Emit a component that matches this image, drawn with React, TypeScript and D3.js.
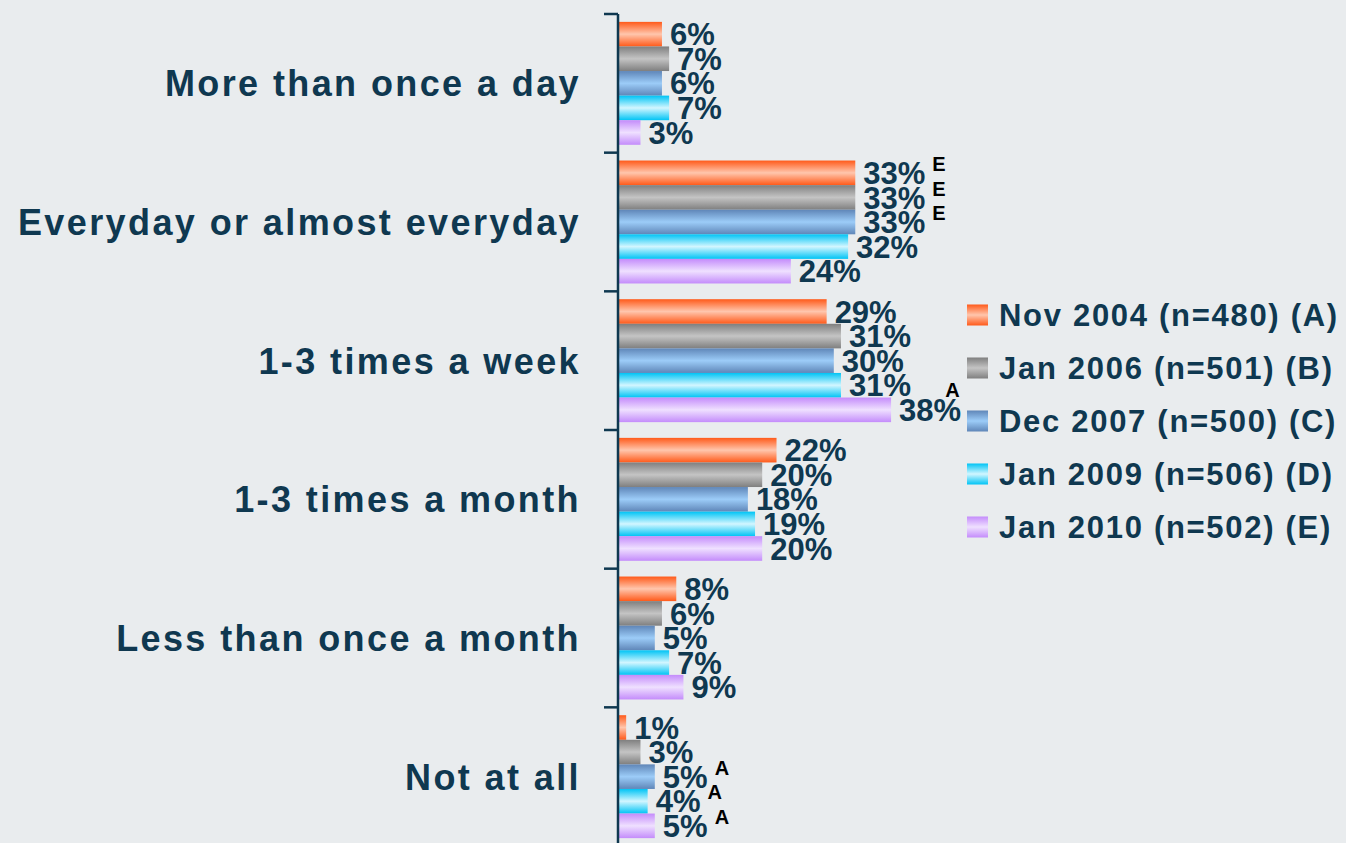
import React from 'react';
import * as d3 from 'd3';

const categories = [
    'More than once a day',
    'Everyday or almost everyday',
    '1-3 times a week',
    '1-3 times a month',
    'Less than once a month',
    'Not at all'
];

const seriesNames = [
    'Nov 2004 (n=480) (A)',
    'Jan 2006 (n=501) (B)',
    'Dec 2007 (n=500) (C)',
    'Jan 2009 (n=506) (D)',
    'Jan 2010 (n=502) (E)'
];

// one array per wave, values per category
const nov2004 = [6, 33, 29, 22, 8, 1];
const jan2006 = [7, 33, 31, 20, 6, 3];
const dec2007 = [6, 33, 30, 18, 5, 5];
const jan2009 = [7, 32, 31, 19, 7, 4];
const jan2010 = [3, 24, 38, 20, 9, 5];

// significance letters: [category index, series index, letter, sits above the label]
const sigLetters: [number, number, string, boolean][] = [
    [1, 0, 'E', false],
    [1, 1, 'E', false],
    [1, 2, 'E', false],
    [2, 4, 'A', true],
    [5, 2, 'A', false],
    [5, 3, 'A', false],
    [5, 4, 'A', false]
];

const seriesValues = [nov2004, jan2006, dec2007, jan2009, jan2010];

// [edge, middle] colours of the bar gradients
const gradients = [
    ['#ff5a1a', '#ffc6ad'],
    ['#7f7f7f', '#c4c4c4'],
    ['#5f86b8', '#9cccf8'],
    ['#00c4f5', '#d2f6ff'],
    ['#c48cfb', '#efe0ff']
];

const W = 1346;
const H = 843;
const navy = '#0f3850';
const font = '"Liberation Sans", Arial, sans-serif';

function App() {
    const axisX = 618;
    const y = d3.scaleBand<number>()
        .domain(d3.range(categories.length))
        .range([14, 846])
        .paddingInner(0)
        .paddingOuter(0);

    const inner = d3.scaleBand<number>()
        .domain(d3.range(seriesNames.length))
        .range([0, y.bandwidth()])
        .paddingInner(0)
        .paddingOuter(0.32);

    const x = d3.scaleLinear().domain([0, 100]).range([axisX + 1, axisX + 1 + 716]);

    const sig = (ci: number, si: number) =>
        sigLetters.find((s) => s[0] === ci && s[1] === si);

    const ticks = d3.range(categories.length + 1).map((i) =>
        i < categories.length ? y(i)! : y(i - 1)! + y.bandwidth()
    );

    const legendY = d3.scalePoint<number>()
        .domain(d3.range(seriesNames.length))
        .range([315, 527]);

    return (
        <svg
            width={W}
            height={H}
            style={{ position: 'fixed', left: 0, top: 0, background: '#e9ecee' }}
            fontFamily={font}
        >
            <defs>
                {gradients.map((g, i) => (
                    <linearGradient key={i} id={`grad${i}`} x1="0" y1="0" x2="0" y2="1">
                        <stop offset="0%" stopColor={g[0]} />
                        <stop offset="50%" stopColor={g[1]} />
                        <stop offset="100%" stopColor={g[0]} />
                    </linearGradient>
                ))}
            </defs>
            <rect width={W} height={H} fill="#e9ecee" />

            {categories.map((c, ci) => (
                <text
                    key={c}
                    x={581}
                    y={y(ci)! + y.bandwidth() / 2}
                    dy="0.36em"
                    textAnchor="end"
                    fontSize={36}
                    fontWeight="bold"
                    letterSpacing={2.4}
                    fill={navy}
                >
                    {c}
                </text>
            ))}

            {categories.map((c, ci) => (
                <g key={c} transform={`translate(0,${y(ci)})`}>
                    {seriesValues.map((vals, si) => {
                        const v = vals[ci];
                        const by = inner(si)!;
                        const bh = inner.bandwidth();
                        const s = sig(ci, si);
                        return (
                            <g key={si}>
                                <rect
                                    x={x(0)}
                                    y={by}
                                    width={x(v) - x(0)}
                                    height={bh}
                                    fill={`url(#grad${si})`}
                                />
                                <text
                                    x={x(v) + 8}
                                    y={by + bh / 2}
                                    dy="0.36em"
                                    fontSize={31}
                                    fontWeight="bold"
                                    fill={navy}
                                >
                                    {v}%
                                    {s && (
                                        <tspan
                                            dx={s[3] ? -16 : 7}
                                            dy={s[3] ? -24 : -13}
                                            fontSize={20}
                                            fill="#000"
                                        >
                                            {s[2]}
                                        </tspan>
                                    )}
                                </text>
                            </g>
                        );
                    })}
                </g>
            ))}

            <line x1={axisX} x2={axisX} y1={14} y2={H} stroke={navy} strokeWidth={2.5} />
            {ticks.map((t, i) => (
                <line key={i} x1={604} x2={axisX} y1={t} y2={t} stroke={navy} strokeWidth={2.5} />
            ))}

            {seriesNames.map((s, si) => (
                <g key={s} transform={`translate(967,${legendY(si)})`}>
                    <rect x={0} y={-10.5} width={21} height={21} fill={`url(#grad${si})`} />
                    <text
                        x={32}
                        dy="0.36em"
                        fontSize={31}
                        fontWeight="bold"
                        letterSpacing={1.7}
                        fill={navy}
                    >
                        {s}
                    </text>
                </g>
            ))}
        </svg>
    );
}

export default App;
